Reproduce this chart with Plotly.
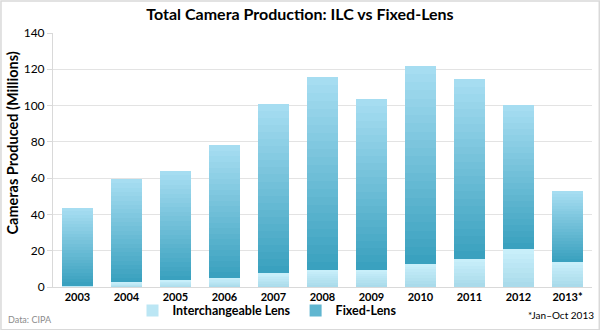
import plotly.graph_objects as go

years = ["2003", "2004", "2005", "2006", "2007", "2008", "2009", "2010", "2011", "2012", "2013*"]
total = [43.5, 59.5, 64, 78, 101, 116, 103.5, 122, 114.5, 100.5, 53]
ilc = [0.8, 2.6, 3.7, 5.2, 7.5, 9.6, 9.6, 12.9, 15.6, 20.9, 14.0]
fixed = [t - i for t, i in zip(total, ilc)]

def lerp(c1, c2, t):
    return "rgb(%d,%d,%d)" % tuple(round(a + (b - a) * t) for a, b in zip(c1, c2))

FONT = "Lato"
N = 24
fig = go.Figure()

# ILC: bottom -> top colours
ilc_bot, ilc_top = (168, 218, 234), (202, 240, 251)
NI = 8
for k in range(NI):
    t = (k + 0.5) / NI
    fig.add_trace(go.Bar(
        x=years, y=[v / NI for v in ilc], name="Interchangeable Lens",
        marker=dict(color=lerp(ilc_bot, ilc_top, t), line=dict(width=0)),
        legendgroup="ilc", showlegend=(k == NI // 2), hoverinfo="skip"))

fx_bot, fx_top = (56, 160, 190), (168, 222, 242)
for k in range(N):
    t = (k + 0.5) / N
    fig.add_trace(go.Bar(
        x=years, y=[v / N for v in fixed], name="Fixed-Lens",
        marker=dict(color=lerp(fx_bot, fx_top, t), line=dict(width=0)),
        legendgroup="fixed", showlegend=(k == N // 3), hoverinfo="skip"))

fig.update_layout(
    barmode="stack", bargap=0.35,
    width=600, height=330,
    margin=dict(l=53, r=8, t=33, b=43, autoexpand=False),
    paper_bgcolor="white", plot_bgcolor="white",
    font=dict(family=FONT, color="#000000"),
    title=dict(text="<b>Total Camera Production: ILC vs Fixed-Lens</b>",
               x=0.5, xanchor="center", y=0.955, yanchor="middle",
               font=dict(size=16, family=FONT, color="#000")),
    showlegend=True,
    legend=dict(orientation="h", xref="container", yref="container",
                x=0.445, xanchor="center", y=0.058, yanchor="middle",
                font=dict(size=12.5, family=FONT), traceorder="normal",
                itemwidth=30, bgcolor="rgba(0,0,0,0)"),
    xaxis=dict(tickfont=dict(size=11, family=FONT), tickprefix="<b>", ticksuffix="</b>",
               showline=True, linecolor="#d9d9d9", linewidth=1, ticks=""),
    yaxis=dict(range=[0, 140], dtick=20, tickfont=dict(size=12, family=FONT),
               gridcolor="#e3e3e3", gridwidth=1, showline=True, linecolor="#d9d9d9",
               ticks="outside", ticklen=5, tickcolor="#d9d9d9", zeroline=False),
    annotations=[
        dict(text="<b>Cameras Produced (Millions)</b>", xref="paper", yref="paper",
             x=-0.075, y=0.567, xanchor="center", yanchor="middle", textangle=-90,
             showarrow=False, font=dict(size=14.5, family=FONT, color="#000")),
        dict(text="Data: CIPA", xref="paper", yref="paper", x=-0.088, y=-0.1,
             xanchor="left", yanchor="top", showarrow=False,
             font=dict(size=9, color="#8c8c8c", family=FONT)),
        dict(text="*Jan\u2013Oct 2013", xref="paper", yref="paper", x=1.008, y=-0.08,
             xanchor="right", yanchor="top", showarrow=False,
             font=dict(size=10, color="#000", family=FONT)),
    ],
    shapes=[dict(type="rect", xref="paper", yref="paper",
                 x0=-0.0965, x1=1.0135, y0=-0.168, y1=1.126,
                 line=dict(color="#d9d9d9", width=1.5), layer="below")],
)
fig.data[NI // 2].name = "<b>Interchangeable Lens</b>"
fig.data[NI + N // 3].name = "<b>Fixed-Lens</b>"

fig.write_html("out.html")
